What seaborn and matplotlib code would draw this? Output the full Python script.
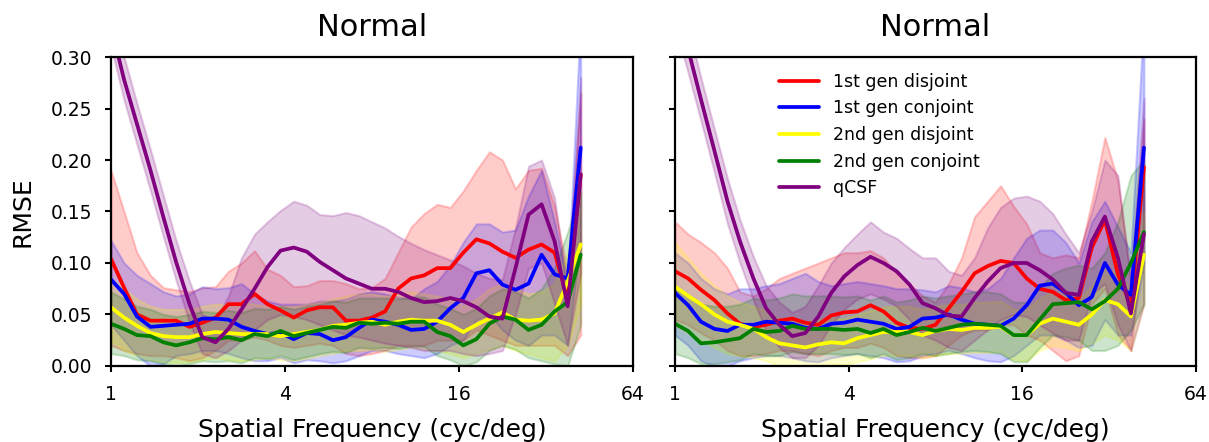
import numpy as np
import pandas as pd
import matplotlib
matplotlib.use("Agg")
import matplotlib.pyplot as plt
import seaborn as sns

# ---------------- data ----------------
freq = [1.00, 1.11, 1.23, 1.37, 1.52, 1.68, 1.87, 2.07, 2.30, 2.55, 2.83, 3.14, 3.48,
        3.86, 4.29, 4.76, 5.28, 5.86, 6.50, 7.21, 8.00, 8.88, 9.85, 10.93, 12.13,
        13.45, 14.93, 16.56, 18.38, 20.39, 22.63, 25.11, 27.86, 30.91, 34.30, 38.05, 42.22]

series_names = ["1st gen disjoint", "1st gen conjoint", "2nd gen disjoint",
                "2nd gen conjoint", "qCSF"]
series_colors = ["red", "blue", "yellow", "green", "purple"]

# Left panel
L_red = [0.104,0.076,0.050,0.044,0.044,0.044,0.038,0.042,0.047,0.060,0.060,0.070,0.060,0.054,0.047,0.054,0.057,0.057,0.044,0.044,0.047,0.053,0.075,0.085,0.088,0.095,0.095,0.110,0.123,0.119,0.111,0.105,0.113,0.118,0.110,0.065,0.186]
L_red_hi = [0.190,0.150,0.110,0.088,0.076,0.074,0.072,0.076,0.077,0.092,0.100,0.112,0.094,0.088,0.077,0.078,0.083,0.083,0.080,0.075,0.076,0.085,0.110,0.135,0.148,0.157,0.154,0.170,0.190,0.208,0.200,0.172,0.190,0.192,0.155,0.090,0.265]
L_red_lo = [0.020,0.015,0.012,0.010,0.010,0.008,0.005,0.008,0.015,0.025,0.025,0.028,0.025,0.020,0.018,0.020,0.022,0.020,0.012,0.010,0.012,0.015,0.020,0.020,0.020,0.025,0.025,0.025,0.035,0.030,0.025,0.020,0.020,0.020,0.020,0.010,0.030]

L_blue = [0.084,0.070,0.048,0.038,0.039,0.040,0.041,0.046,0.046,0.045,0.038,0.034,0.031,0.032,0.026,0.032,0.031,0.025,0.028,0.037,0.045,0.043,0.040,0.035,0.036,0.043,0.056,0.066,0.090,0.093,0.079,0.074,0.080,0.108,0.089,0.085,0.212]
L_blue_hi = [0.122,0.100,0.088,0.080,0.072,0.068,0.070,0.077,0.075,0.076,0.080,0.070,0.063,0.060,0.060,0.060,0.063,0.063,0.065,0.070,0.072,0.070,0.067,0.065,0.075,0.082,0.098,0.120,0.138,0.138,0.130,0.132,0.165,0.190,0.140,0.080,0.340]
L_blue_lo = [0.040,0.025,0.010,0.000,0.002,0.010,0.012,0.015,0.015,0.012,0.008,0.005,0.005,0.008,0.003,0.006,0.005,0.003,0.005,0.010,0.015,0.015,0.012,0.010,0.008,0.012,0.020,0.025,0.045,0.050,0.035,0.025,0.020,0.030,0.030,0.020,0.120]

L_yel = [0.057,0.047,0.039,0.032,0.029,0.028,0.028,0.031,0.033,0.032,0.031,0.031,0.031,0.029,0.031,0.033,0.035,0.039,0.040,0.042,0.043,0.040,0.043,0.045,0.044,0.044,0.040,0.033,0.040,0.046,0.052,0.045,0.044,0.045,0.051,0.082,0.118]
L_yel_hi = [0.085,0.075,0.065,0.058,0.055,0.055,0.055,0.058,0.060,0.060,0.062,0.060,0.058,0.058,0.058,0.060,0.062,0.065,0.068,0.070,0.070,0.068,0.070,0.072,0.070,0.068,0.065,0.058,0.065,0.075,0.080,0.075,0.070,0.072,0.080,0.110,0.170]
L_yel_lo = [0.025,0.015,0.010,0.006,0.004,0.003,0.004,0.006,0.008,0.006,0.005,0.006,0.008,0.006,0.005,0.007,0.010,0.012,0.015,0.015,0.016,0.014,0.016,0.018,0.016,0.015,0.012,0.008,0.012,0.016,0.020,0.015,0.012,0.008,0.005,0.020,0.060]

L_grn = [0.041,0.036,0.030,0.029,0.023,0.020,0.023,0.027,0.026,0.028,0.025,0.031,0.029,0.034,0.029,0.032,0.035,0.038,0.037,0.042,0.041,0.042,0.041,0.043,0.043,0.033,0.029,0.020,0.026,0.041,0.048,0.045,0.035,0.040,0.053,0.062,0.108]
L_grn_hi = [0.072,0.065,0.058,0.055,0.050,0.048,0.050,0.053,0.052,0.054,0.052,0.056,0.055,0.058,0.055,0.058,0.060,0.063,0.062,0.066,0.066,0.066,0.065,0.067,0.067,0.060,0.056,0.050,0.056,0.068,0.075,0.072,0.066,0.075,0.095,0.130,0.170]
L_grn_lo = [0.012,0.010,0.006,0.005,0.002,0.000,0.002,0.005,0.004,0.005,0.003,0.008,0.007,0.010,0.006,0.009,0.012,0.014,0.013,0.018,0.017,0.018,0.017,0.019,0.019,0.010,0.006,0.000,0.004,0.015,0.020,0.016,0.008,0.005,0.002,0.000,0.040]

L_pur = [0.330,0.278,0.235,0.190,0.144,0.101,0.060,0.028,0.023,0.036,0.055,0.075,0.096,0.112,0.115,0.111,0.101,0.093,0.085,0.080,0.075,0.075,0.072,0.066,0.062,0.063,0.066,0.063,0.057,0.048,0.046,0.095,0.147,0.157,0.121,0.058,0.186]
L_pur_hi = [0.350,0.300,0.255,0.210,0.165,0.122,0.082,0.050,0.045,0.068,0.105,0.128,0.140,0.151,0.160,0.156,0.147,0.146,0.149,0.146,0.140,0.134,0.126,0.119,0.113,0.108,0.103,0.097,0.090,0.085,0.084,0.134,0.194,0.200,0.163,0.070,0.280]
L_pur_lo = [0.310,0.258,0.215,0.170,0.125,0.083,0.042,0.012,0.008,0.015,0.025,0.035,0.045,0.050,0.048,0.045,0.040,0.035,0.030,0.028,0.025,0.022,0.020,0.018,0.015,0.015,0.015,0.012,0.010,0.012,0.015,0.050,0.095,0.100,0.060,0.020,0.090]

# Right panel
R_red = [0.092,0.085,0.074,0.064,0.051,0.041,0.038,0.040,0.044,0.046,0.042,0.040,0.049,0.052,0.053,0.059,0.053,0.042,0.037,0.036,0.040,0.056,0.072,0.090,0.097,0.102,0.100,0.085,0.075,0.072,0.064,0.066,0.115,0.142,0.089,0.059,0.193]
R_red_hi = [0.140,0.128,0.120,0.110,0.095,0.072,0.068,0.075,0.085,0.090,0.095,0.100,0.105,0.110,0.110,0.112,0.105,0.090,0.080,0.068,0.062,0.080,0.105,0.145,0.160,0.175,0.155,0.138,0.110,0.105,0.108,0.105,0.160,0.222,0.180,0.085,0.240]
R_red_lo = [0.045,0.040,0.032,0.025,0.015,0.010,0.010,0.012,0.015,0.015,0.012,0.010,0.015,0.018,0.018,0.022,0.018,0.010,0.008,0.008,0.010,0.020,0.030,0.035,0.035,0.040,0.040,0.030,0.025,0.015,0.005,0.010,0.060,0.075,0.030,0.015,0.130]

R_blue = [0.071,0.059,0.043,0.036,0.034,0.040,0.040,0.043,0.042,0.041,0.037,0.036,0.041,0.042,0.045,0.043,0.041,0.036,0.038,0.046,0.047,0.050,0.045,0.041,0.040,0.039,0.046,0.059,0.078,0.080,0.071,0.059,0.067,0.100,0.079,0.069,0.212]
R_blue_hi = [0.110,0.100,0.085,0.075,0.070,0.075,0.075,0.078,0.080,0.085,0.090,0.082,0.078,0.080,0.082,0.080,0.078,0.075,0.075,0.074,0.072,0.078,0.076,0.072,0.075,0.085,0.105,0.124,0.132,0.132,0.120,0.100,0.140,0.160,0.135,0.110,0.340]
R_blue_lo = [0.030,0.020,0.005,0.000,0.000,0.005,0.008,0.010,0.010,0.008,0.005,0.004,0.008,0.010,0.012,0.010,0.008,0.004,0.005,0.010,0.012,0.015,0.012,0.008,0.005,0.004,0.010,0.020,0.030,0.030,0.025,0.018,0.020,0.045,0.030,0.030,0.100]

R_yel = [0.077,0.068,0.060,0.050,0.043,0.040,0.036,0.028,0.022,0.020,0.018,0.021,0.023,0.022,0.027,0.030,0.033,0.033,0.033,0.030,0.034,0.036,0.035,0.037,0.037,0.038,0.030,0.030,0.041,0.046,0.043,0.040,0.050,0.064,0.060,0.048,0.108]
R_yel_hi = [0.120,0.105,0.090,0.078,0.068,0.062,0.058,0.054,0.045,0.044,0.042,0.045,0.047,0.046,0.050,0.054,0.057,0.058,0.058,0.055,0.058,0.060,0.060,0.062,0.062,0.063,0.055,0.055,0.066,0.072,0.068,0.065,0.078,0.095,0.090,0.075,0.150]
R_yel_lo = [0.040,0.032,0.025,0.018,0.012,0.010,0.008,0.005,0.000,0.000,0.000,0.000,0.002,0.001,0.004,0.007,0.010,0.010,0.010,0.008,0.010,0.012,0.012,0.013,0.013,0.014,0.006,0.005,0.015,0.020,0.018,0.015,0.022,0.030,0.025,0.015,0.060]

R_grn = [0.041,0.034,0.022,0.023,0.025,0.027,0.036,0.033,0.034,0.039,0.036,0.036,0.036,0.035,0.036,0.032,0.036,0.030,0.033,0.037,0.034,0.037,0.040,0.041,0.040,0.039,0.030,0.030,0.045,0.060,0.061,0.062,0.055,0.063,0.075,0.100,0.130]
R_grn_hi = [0.075,0.068,0.060,0.058,0.058,0.060,0.066,0.064,0.066,0.070,0.068,0.068,0.068,0.067,0.068,0.064,0.068,0.062,0.064,0.068,0.066,0.068,0.070,0.072,0.072,0.070,0.062,0.062,0.076,0.090,0.095,0.098,0.095,0.110,0.140,0.185,0.200]
R_grn_lo = [0.012,0.008,0.002,0.002,0.004,0.006,0.012,0.010,0.010,0.014,0.012,0.012,0.012,0.011,0.012,0.008,0.012,0.006,0.008,0.012,0.010,0.012,0.014,0.015,0.014,0.012,0.004,0.004,0.018,0.030,0.028,0.025,0.015,0.015,0.020,0.035,0.060]

R_pur = [0.355,0.308,0.259,0.209,0.160,0.121,0.085,0.056,0.040,0.029,0.032,0.048,0.071,0.087,0.098,0.106,0.100,0.092,0.079,0.061,0.056,0.049,0.048,0.066,0.082,0.095,0.100,0.100,0.093,0.084,0.071,0.069,0.121,0.145,0.105,0.051,0.128]
R_pur_hi = [0.380,0.330,0.280,0.230,0.182,0.142,0.106,0.078,0.062,0.052,0.058,0.078,0.100,0.115,0.128,0.140,0.130,0.124,0.114,0.105,0.105,0.092,0.088,0.105,0.134,0.154,0.163,0.165,0.160,0.148,0.128,0.110,0.150,0.200,0.185,0.080,0.260]
R_pur_lo = [0.330,0.285,0.238,0.188,0.138,0.100,0.064,0.034,0.018,0.008,0.008,0.020,0.040,0.055,0.065,0.070,0.065,0.058,0.045,0.030,0.025,0.018,0.015,0.025,0.035,0.045,0.050,0.048,0.040,0.032,0.025,0.025,0.070,0.080,0.040,0.015,0.060]

panel_titles = ["Normal", "Normal"]
x_ticks = [1, 4, 16, 64]
y_ticks = [0.00, 0.05, 0.10, 0.15, 0.20, 0.25, 0.30]

left_series = [(L_red, L_red_lo, L_red_hi), (L_blue, L_blue_lo, L_blue_hi),
               (L_yel, L_yel_lo, L_yel_hi), (L_grn, L_grn_lo, L_grn_hi),
               (L_pur, L_pur_lo, L_pur_hi)]
right_series = [(R_red, R_red_lo, R_red_hi), (R_blue, R_blue_lo, R_blue_hi),
                (R_yel, R_yel_lo, R_yel_hi), (R_grn, R_grn_lo, R_grn_hi),
                (R_pur, R_pur_lo, R_pur_hi)]

# ---------------- plot ----------------
sns.set_style("ticks", rc={"axes.edgecolor": "black", "text.color": "black",
                           "axes.labelcolor": "black", "xtick.color": "black",
                           "ytick.color": "black"})
plt.rcParams["font.family"] = ["DejaVu Sans"]

fig = plt.figure(figsize=(12.09, 4.42), dpi=100)
ax1 = fig.add_axes([0.0918, 0.172, 0.4317, 0.699])
ax2 = fig.add_axes([0.5583, 0.172, 0.4310, 0.699], sharey=ax1)

for ax, series, title, show_leg in [(ax1, left_series, panel_titles[0], False),
                                    (ax2, right_series, panel_titles[1], True)]:
    for (mid, lo, hi), name, col in zip(series, series_names, series_colors):
        df = pd.DataFrame({"freq": freq, "rmse": mid})
        ax.fill_between(freq, lo, hi, color=col, alpha=0.2, linewidth=1.5)
        sns.lineplot(data=df, x="freq", y="rmse", color=col, linewidth=2.7,
                     ax=ax, label=name if show_leg else None)
    ax.set_xscale("log", base=2)
    ax.set_xlim(1, 64)
    ax.set_ylim(0, 0.30)
    ax.set_xticks(x_ticks)
    ax.set_xticklabels([str(t) for t in x_ticks])
    ax.minorticks_off()
    ax.set_yticks(y_ticks)
    ax.set_title(title, fontsize=22, pad=15)
    ax.set_xlabel("Spatial Frequency (cyc/deg)", fontsize=18, labelpad=10)
    ax.tick_params(axis="both", labelsize=13.5, width=1.5, length=4.5, pad=9,
                   colors="black")
    for sp in ax.spines.values():
        sp.set_linewidth(1.6)
        sp.set_color("black")

ax1.set_yticklabels([f"{v:.2f}" for v in y_ticks])
ax1.set_ylabel("RMSE", fontsize=18, labelpad=12)
ax2.set_ylabel("")
ax2.tick_params(axis="y", labelleft=False)

leg = ax2.legend(loc="upper left", bbox_to_anchor=(0.170, 1.0), frameon=False,
                 fontsize=12.5, handlelength=2.3, labelspacing=0.5)

fig.savefig("out.png", dpi=100)
